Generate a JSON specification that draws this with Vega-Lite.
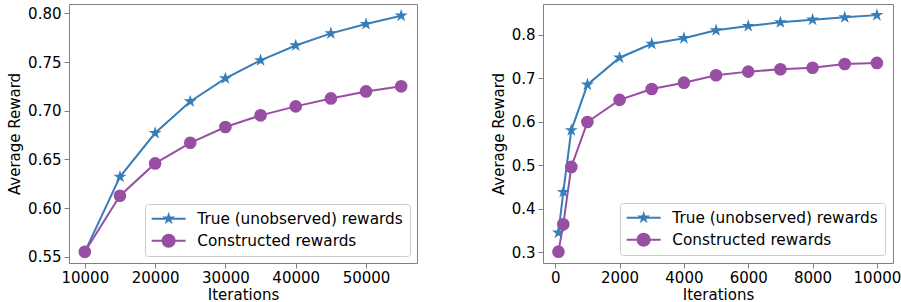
{
  "$schema": "https://vega.github.io/schema/vega-lite/v6.json",
  "padding": {"left": 7, "top": 3, "right": 0, "bottom": 0},
  "background": "white",
  "datasets": {
    "left": [
      {"iter": 10000, "reward": 0.555, "series": "True (unobserved) rewards"},
      {"iter": 15000, "reward": 0.632, "series": "True (unobserved) rewards"},
      {"iter": 20000, "reward": 0.677, "series": "True (unobserved) rewards"},
      {"iter": 25000, "reward": 0.7095, "series": "True (unobserved) rewards"},
      {"iter": 30000, "reward": 0.7332, "series": "True (unobserved) rewards"},
      {"iter": 35000, "reward": 0.7517, "series": "True (unobserved) rewards"},
      {"iter": 40000, "reward": 0.767, "series": "True (unobserved) rewards"},
      {"iter": 45000, "reward": 0.7794, "series": "True (unobserved) rewards"},
      {"iter": 50000, "reward": 0.789, "series": "True (unobserved) rewards"},
      {"iter": 55000, "reward": 0.7976, "series": "True (unobserved) rewards"},
      {"iter": 10000, "reward": 0.555, "series": "Constructed rewards"},
      {"iter": 15000, "reward": 0.6126, "series": "Constructed rewards"},
      {"iter": 20000, "reward": 0.6458, "series": "Constructed rewards"},
      {"iter": 25000, "reward": 0.667, "series": "Constructed rewards"},
      {"iter": 30000, "reward": 0.6832, "series": "Constructed rewards"},
      {"iter": 35000, "reward": 0.6952, "series": "Constructed rewards"},
      {"iter": 40000, "reward": 0.7044, "series": "Constructed rewards"},
      {"iter": 45000, "reward": 0.7126, "series": "Constructed rewards"},
      {"iter": 50000, "reward": 0.7198, "series": "Constructed rewards"},
      {"iter": 55000, "reward": 0.725, "series": "Constructed rewards"}
    ],
    "right": [
      {"iter": 100, "reward": 0.3445, "series": "True (unobserved) rewards"},
      {"iter": 250, "reward": 0.438, "series": "True (unobserved) rewards"},
      {"iter": 500, "reward": 0.58, "series": "True (unobserved) rewards"},
      {"iter": 1000, "reward": 0.685, "series": "True (unobserved) rewards"},
      {"iter": 2000, "reward": 0.747, "series": "True (unobserved) rewards"},
      {"iter": 3000, "reward": 0.779, "series": "True (unobserved) rewards"},
      {"iter": 4000, "reward": 0.792, "series": "True (unobserved) rewards"},
      {"iter": 5000, "reward": 0.81, "series": "True (unobserved) rewards"},
      {"iter": 6000, "reward": 0.82, "series": "True (unobserved) rewards"},
      {"iter": 7000, "reward": 0.8285, "series": "True (unobserved) rewards"},
      {"iter": 8000, "reward": 0.8345, "series": "True (unobserved) rewards"},
      {"iter": 9000, "reward": 0.84, "series": "True (unobserved) rewards"},
      {"iter": 10000, "reward": 0.845, "series": "True (unobserved) rewards"},
      {"iter": 100, "reward": 0.3008, "series": "Constructed rewards"},
      {"iter": 250, "reward": 0.3637, "series": "Constructed rewards"},
      {"iter": 500, "reward": 0.4957, "series": "Constructed rewards"},
      {"iter": 1000, "reward": 0.599, "series": "Constructed rewards"},
      {"iter": 2000, "reward": 0.65, "series": "Constructed rewards"},
      {"iter": 3000, "reward": 0.675, "series": "Constructed rewards"},
      {"iter": 4000, "reward": 0.6896, "series": "Constructed rewards"},
      {"iter": 5000, "reward": 0.7066, "series": "Constructed rewards"},
      {"iter": 6000, "reward": 0.715, "series": "Constructed rewards"},
      {"iter": 7000, "reward": 0.7204, "series": "Constructed rewards"},
      {"iter": 8000, "reward": 0.724, "series": "Constructed rewards"},
      {"iter": 9000, "reward": 0.7326, "series": "Constructed rewards"},
      {"iter": 10000, "reward": 0.735, "series": "Constructed rewards"}
    ]
  },
  "config": {
    "font": "DejaVu Sans",
    "view": {"stroke": "#808080", "strokeWidth": 1},
    "axis": {
      "labelFont": "DejaVu Sans", "titleFont": "DejaVu Sans",
      "labelFontSize": 15, "titleFontSize": 15, "titleFontWeight": "normal",
      "labelColor": "#000000", "titleColor": "#000000",
      "tickColor": "#808080", "tickSize": 5, "tickWidth": 1,
      "domain": false, "grid": false, "titlePadding": 5
    },
    "axisX": {"labelPadding": 2, "titlePadding": 2},
    "axisY": {"labelPadding": 3},
    "legend": {
      "labelFont": "DejaVu Sans", "labelFontSize": 15.3, "labelColor": "#000000",
      "labelLimit": 0
    },
    "concat": {"spacing": 72}
  },
  "resolve": {"scale": {"color": "independent"}},
  "hconcat": [
    {
      "width": 348, "height": 259,
      "data": {"name": "left"},
      "encoding": {
        "x": {"field": "iter", "type": "quantitative",
          "scale": {"domain": [7750, 57250], "nice": false, "zero": false},
          "axis": {"title": "Iterations", "values": [10000, 20000, 30000, 40000, 50000], "format": "d"}},
        "y": {"field": "reward", "type": "quantitative",
          "scale": {"domain": [0.5435, 0.8096], "nice": false, "zero": false},
          "axis": {"title": "Average Reward", "values": [0.55, 0.6, 0.65, 0.7, 0.75, 0.8], "format": ".2f"}},
        "color": {"field": "series", "type": "nominal",
          "scale": {"domain": ["True (unobserved) rewards", "Constructed rewards"], "range": ["#377eb8", "#984ea3"]},
          "legend": {
            "title": null, "orient": "bottom-right", "offset": 7,
            "symbolSize": 196, "symbolOffset": 9, "labelOffset": 21,
            "padding": 7, "rowPadding": 6,
            "strokeColor": "#cccccc", "fillColor": "rgba(255,255,255,0.8)", "cornerRadius": 3,
            "encode": {"symbols": {"update": {
              "shape": {"signal": "datum.value === 'True (unobserved) rewards' ? 'M-2.43,-0.143H2.43V0.143H-2.43Z M0,-0.97L0.218,-0.3L0.9226,-0.3L0.3524,0.1145L0.5702,0.7847L0,0.3705L-0.5702,0.7847L-0.3524,0.1145L-0.9226,-0.3L-0.218,-0.3Z' : 'M-2.43,-0.143H2.43V0.143H-2.43Z M-1,0A1,1 0 1,1 1,0A1,1 0 1,1 -1,0Z'"},
              "fill": {"signal": "datum.value === 'True (unobserved) rewards' ? '#377eb8' : '#984ea3'"},
              "stroke": {"value": "transparent"},
              "strokeWidth": {"value": 0},
              "opacity": {"value": 1}
            }}}
          }}
      },
      "layer": [
        {"mark": {"type": "line", "strokeWidth": 2}},
        {"transform": [{"filter": "datum.series === 'True (unobserved) rewards'"}],
         "mark": {"type": "point", "filled": true, "opacity": 1, "size": 185,
           "shape": "M0,-1L0.2245,-0.309L0.9511,-0.309L0.3633,0.118L0.5878,0.809L0,0.382L-0.5878,0.809L-0.3633,0.118L-0.9511,-0.309L-0.2245,-0.309Z"}},
        {"transform": [{"filter": "datum.series === 'Constructed rewards'"}],
         "mark": {"type": "point", "filled": true, "opacity": 1, "size": 160, "shape": "circle"}}
      ]
    },
    {
      "width": 350, "height": 259,
      "data": {"name": "right"},
      "encoding": {
        "x": {"field": "iter", "type": "quantitative",
          "scale": {"domain": [-380, 10500], "nice": false, "zero": false},
          "axis": {"title": "Iterations", "values": [0, 2000, 4000, 6000, 8000, 10000], "format": "d"}},
        "y": {"field": "reward", "type": "quantitative",
          "scale": {"domain": [0.2747, 0.8706], "nice": false, "zero": false},
          "axis": {"title": "Average Reward", "values": [0.3, 0.4, 0.5, 0.6, 0.7, 0.8], "format": ".1f"}},
        "color": {"field": "series", "type": "nominal",
          "scale": {"domain": ["True (unobserved) rewards", "Constructed rewards"], "range": ["#377eb8", "#984ea3"]},
          "legend": {
            "title": null, "orient": "bottom-right", "offset": 8,
            "symbolSize": 196, "symbolOffset": 9, "labelOffset": 21,
            "padding": 7, "rowPadding": 6,
            "strokeColor": "#cccccc", "fillColor": "rgba(255,255,255,0.8)", "cornerRadius": 3,
            "encode": {"symbols": {"update": {
              "shape": {"signal": "datum.value === 'True (unobserved) rewards' ? 'M-2.43,-0.143H2.43V0.143H-2.43Z M0,-0.97L0.218,-0.3L0.9226,-0.3L0.3524,0.1145L0.5702,0.7847L0,0.3705L-0.5702,0.7847L-0.3524,0.1145L-0.9226,-0.3L-0.218,-0.3Z' : 'M-2.43,-0.143H2.43V0.143H-2.43Z M-1,0A1,1 0 1,1 1,0A1,1 0 1,1 -1,0Z'"},
              "fill": {"signal": "datum.value === 'True (unobserved) rewards' ? '#377eb8' : '#984ea3'"},
              "stroke": {"value": "transparent"},
              "strokeWidth": {"value": 0},
              "opacity": {"value": 1}
            }}}
          }}
      },
      "layer": [
        {"mark": {"type": "line", "strokeWidth": 2}},
        {"transform": [{"filter": "datum.series === 'True (unobserved) rewards'"}],
         "mark": {"type": "point", "filled": true, "opacity": 1, "size": 185,
           "shape": "M0,-1L0.2245,-0.309L0.9511,-0.309L0.3633,0.118L0.5878,0.809L0,0.382L-0.5878,0.809L-0.3633,0.118L-0.9511,-0.309L-0.2245,-0.309Z"}},
        {"transform": [{"filter": "datum.series === 'Constructed rewards'"}],
         "mark": {"type": "point", "filled": true, "opacity": 1, "size": 160, "shape": "circle"}}
      ]
    }
  ]
}
